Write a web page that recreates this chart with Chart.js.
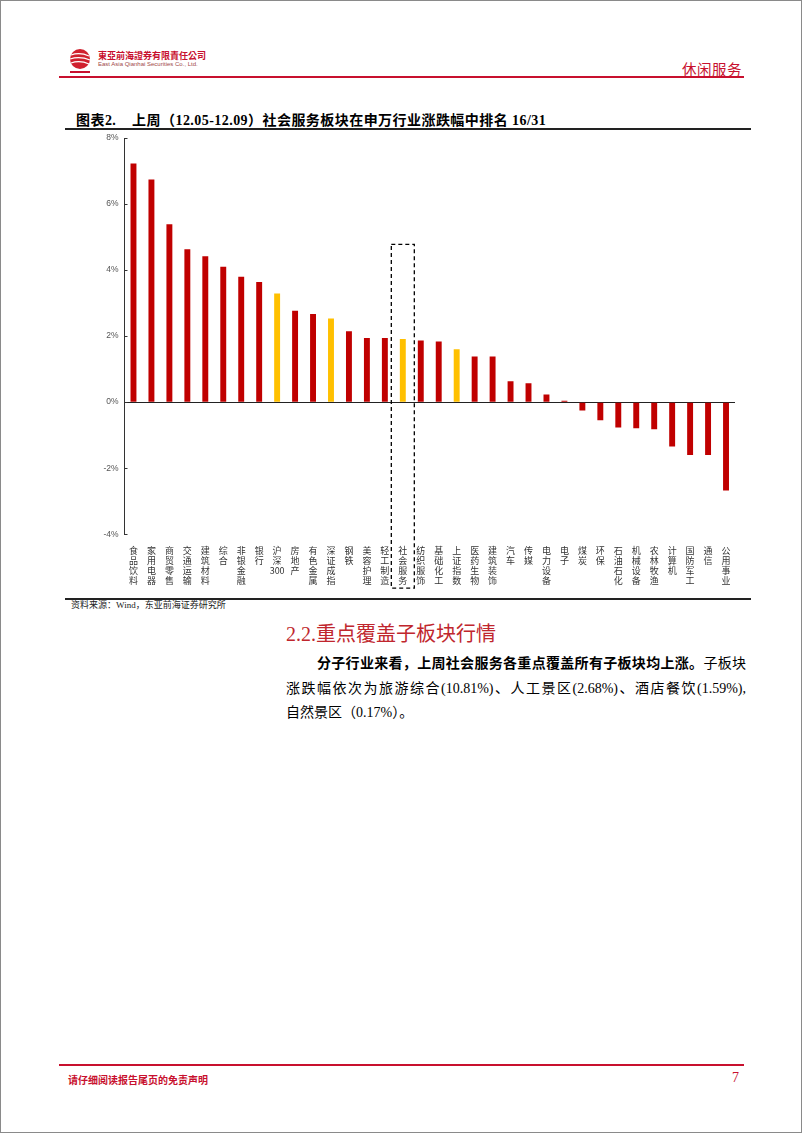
<!DOCTYPE html>
<html>
<head>
<meta charset="utf-8">
<script src="https://cdn.jsdelivr.net/npm/chart.js@4.4.0/dist/chart.umd.min.js"></script>
<style>
  body { margin: 0; background: #fff; }
  .page { position: relative; width: 802px; height: 1133px; border: 1px solid #8a8a8a; box-sizing: border-box; overflow: hidden;
          font-family: "Liberation Serif", "Noto Sans CJK SC", serif; color: #000; }
  .abs { position: absolute; white-space: nowrap; }
  .redline { position: absolute; background: #c8102e; }
  .darkline { position: absolute; background: #222; }
  #chart-box { position: absolute; left: 64px; top: 129px; width: 686px; height: 468px; }
  .para div { text-align: justify; text-align-last: justify; }
</style>
</head>
<body>
<div class="page">
  <svg class="abs" style="left:66px;top:46px" width="26" height="28" viewBox="0 0 26 28">
    <circle cx="13" cy="12" r="10" fill="#d0202e"/>
    <path d="M4 8 Q13 5 22 9 M3 12 Q13 9 23 13 M4 16 Q13 13 22 17" stroke="#fff" stroke-width="1.3" fill="none"/>
    <rect x="3" y="24" width="20" height="2" fill="#c8102e"/>
  </svg>
  <div class="abs" style="left:97px;top:48px;font-size:9px;font-weight:bold;color:#c8102e;font-family:'Noto Sans CJK TC','Noto Sans CJK SC'">東亞前海證券有限責任公司</div>
  <div class="abs" style="left:97px;top:60px;font-size:6px;color:#a04848;font-family:'Liberation Sans'">East Asia Qianhai Securities Co., Ltd.</div>
  <div class="abs" style="left:681px;top:57px;font-size:14.5px;color:#c8102e;letter-spacing:0.5px;font-family:'Noto Sans CJK SC'">休闲服务</div>
  <div class="redline" style="left:58px;top:75px;width:685px;height:1.5px"></div>

  <div class="abs" style="left:75px;top:108px;font-size:14px;font-weight:bold;letter-spacing:0.45px">图表2.&nbsp;&nbsp;&nbsp;&nbsp;上周（12.05-12.09）社会服务板块在申万行业涨跌幅中排名 16/31</div>
  <div class="darkline" style="left:64px;top:127px;width:686px;height:2px"></div>

  <div id="chart-box"><canvas id="chart-bar"></canvas></div>

  <div class="darkline" style="left:64px;top:597px;width:686px;height:2px"></div>
  <div class="abs" style="left:70px;top:598px;font-size:9px;line-height:12px;color:#222">资料来源：Wind，东亚前海证券研究所</div>

  <div class="abs" style="left:285px;top:617px;font-size:20px;color:#c0262d;font-family:'Liberation Serif','Noto Sans CJK SC'">2.2.重点覆盖子板块行情</div>
  <div class="abs para" style="left:285px;top:651px;width:460px;font-size:14px;line-height:24.5px;white-space:normal">
    <div style="padding-left:31px"><b>分子行业来看，上周社会服务各重点覆盖所有子板块均上涨。</b>子板块</div>
    <div>涨跌幅依次为旅游综合(10.81%)、人工景区(2.68%)、酒店餐饮(1.59%),</div>
    <div style="text-align-last:left">自然景区（0.17%）。</div>
  </div>

  <div class="redline" style="left:58px;top:1063px;width:685px;height:1.5px"></div>
  <div class="abs" style="left:67px;top:1071px;font-size:10px;font-weight:bold;color:#c8102e;font-family:'Noto Sans CJK SC'">请仔细阅读报告尾页的免责声明</div>
  <div class="abs" style="left:731px;top:1069px;font-size:14px;color:#c8102e">7</div>
</div>

<script>
// 申万行业 + 指数 上周涨跌幅 (%)
var industries = ['食品饮料', '家用电器', '商贸零售', '交通运输', '建筑材料', '综合', '非银金融', '银行',
    '沪深300', '房地产', '有色金属', '深证成指', '钢铁', '美容护理', '轻工制造', '社会服务',
    '纺织服饰', '基础化工', '上证指数', '医药生物', '建筑装饰', '汽车', '传媒', '电力设备',
    '电子', '煤炭', '环保', '石油石化', '机械设备', '农林牧渔', '计算机', '国防军工', '通信', '公用事业'];
var weeklyChange = [7.23, 6.74, 5.39, 4.63, 4.42, 4.10, 3.80, 3.64,
    3.29, 2.77, 2.67, 2.53, 2.15, 1.94, 1.94, 1.91,
    1.87, 1.84, 1.60, 1.38, 1.38, 0.63, 0.57, 0.23,
    0.04, -0.25, -0.55, -0.77, -0.79, -0.82, -1.34, -1.60, -1.60, -2.68];
var highlighted = ['沪深300', '深证成指', '社会服务', '上证指数'];
var focusName = '社会服务';
var yTicks = [-4, -2, 0, 2, 4, 6, 8];

// vertical labels: one character per line, digits kept together
function split_label(name) {
    return name.match(/\d+|./g);
}

var barColors = industries.map(function(name) {
    return highlighted.indexOf(name) >= 0 ? '#ffc000' : '#c00000';
});

// small inward ticks on the y axis + dashed box around 社会服务
var extras = {
    id: 'extras',
    afterDatasetsDraw: function(chart) {
        var ctx = chart.ctx;
        var area = chart.chartArea;
        var y = chart.scales.y;
        var x = chart.scales.x;
        ctx.save();
        ctx.strokeStyle = '#333';
        ctx.lineWidth = 1;
        yTicks.forEach(function(v) {
            var py = Math.round(y.getPixelForValue(v)) + 0.5;
            ctx.beginPath();
            ctx.moveTo(area.left, py);
            ctx.lineTo(area.left + 3, py);
            ctx.stroke();
        });
        var cx = x.getPixelForValue(industries.indexOf(focusName));
        var top = y.getPixelForValue(4.78);
        var bottom = area.bottom + 54;
        ctx.setLineDash([4, 3]);
        ctx.strokeStyle = '#000';
        ctx.lineWidth = 1.3;
        ctx.strokeRect(cx - 11.5, top, 23, bottom - top);
        ctx.restore();
    }
};

var ctx = document.getElementById('chart-bar').getContext('2d');

new Chart(ctx, {
    type: 'bar',
    data: {
        labels: industries.map(split_label),
        datasets: [{
            data: weeklyChange,
            backgroundColor: barColors,
            borderWidth: 0,
            barPercentage: 0.33,
            categoryPercentage: 1
        }]
    },
    options: {
        responsive: true,
        maintainAspectRatio: false,
        animation: false,
        layout: { padding: { top: 8, right: 16, left: 0, bottom: 0 } },
        plugins: {
            legend: { display: false },
            tooltip: { enabled: false }
        },
        scales: {
            x: {
                afterFit: function(scale) { scale.height = 63.8; },
                border: { display: false },
                grid: { display: false, drawTicks: false },
                ticks: {
                    autoSkip: false,
                    maxRotation: 0,
                    minRotation: 0,
                    padding: 11,
                    color: '#333',
                    font: { size: 9, family: "'Noto Sans CJK SC'", lineHeight: 1.12 }
                }
            },
            y: {
                min: -4,
                max: 8,
                afterFit: function(scale) {
                    scale.width = 59.5;
                    scale.paddingTop = 0;
                    scale.paddingBottom = 0;
                },
                border: { display: true, color: '#333', width: 1 },
                grid: {
                    drawTicks: false,
                    color: function(c) { return c.tick && c.tick.value === 0 ? '#222' : 'rgba(0,0,0,0)'; },
                    lineWidth: 1
                },
                ticks: {
                    stepSize: 2,
                    padding: 6,
                    color: '#555',
                    font: { size: 8.5, family: "'Liberation Sans'" },
                    callback: function(v) { return v + '%'; }
                }
            }
        }
    },
    plugins: [extras]
});
</script>
</body>
</html>
